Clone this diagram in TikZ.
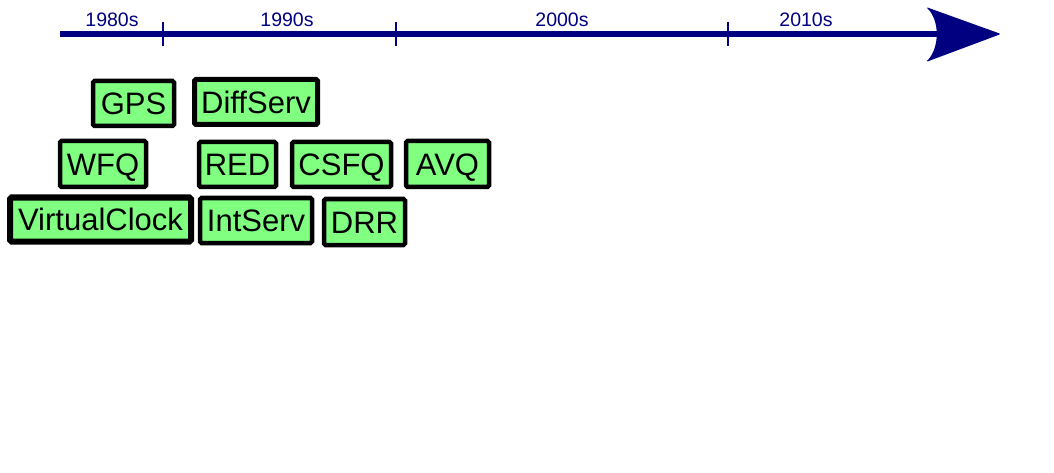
\documentclass[tikz,border=0pt]{standalone}
\usepackage{fontspec}
\setmainfont{Liberation Sans}
\definecolor{axisblue}{RGB}{0,0,128}
\definecolor{boxgreen}{RGB}{128,255,128}
\begin{document}
\begin{tikzpicture}[x=1pt,y=-1pt,
  era/.style={text=axisblue,font=\fontsize{19.5}{22}\selectfont,anchor=base,inner sep=0pt},
  tickmark/.style={draw=axisblue,line width=2pt},
  tech/.style={draw=black,fill=boxgreen,line width=4.5pt,rounded corners=1.5pt,
    font=\fontsize{31}{35}\selectfont,inner sep=0pt,anchor=center,
    text height=22.2pt,text depth=0pt}]
\useasboundingbox (0,0) rectangle (1054,473);
% axis
\coordinate (axstart) at (60,34);
\coordinate (axend) at (940,34);
\coordinate (tip) at (1001,34);
\coordinate (backtop) at (926,7);
\coordinate (backbot) at (926,62);
\draw[axisblue,line width=6pt] (axstart) -- (axend);
\fill[axisblue,rounded corners=1.5pt] (tip) -- (backtop) .. controls (940,20) and (940,48) .. (backbot) -- cycle;
\coordinate (t1a) at (163,22); \coordinate (t1b) at (163,46);
\coordinate (t2a) at (396,22); \coordinate (t2b) at (396,46);
\coordinate (t3a) at (728,22); \coordinate (t3b) at (728,46);
\draw[tickmark] (t1a) -- (t1b);
\draw[tickmark] (t2a) -- (t2b);
\draw[tickmark] (t3a) -- (t3b);
\node[era] (e80) at (112,27) {1980s};
\node[era] (e90) at (287,27) {1990s};
\node[era] (e00) at (562,27) {2000s};
\node[era] (e10) at (806,27) {2010s};
% boxes
\node[tech,minimum width=81pt,minimum height=45pt] (gps) at (133.5,103.5) {GPS};
\node[tech,line width=5pt,minimum width=123pt,minimum height=45pt] (diffserv) at (256,102) {DiffServ};
\node[tech,minimum width=86pt,minimum height=46pt] (wfq) at (103,164) {WFQ};
\node[tech,minimum width=77pt,minimum height=45pt] (red) at (237.5,164.5) {RED};
\node[tech,minimum width=99pt,minimum height=45pt] (csfq) at (341.5,164.5) {CSFQ};
\node[tech,minimum width=83pt,minimum height=46pt] (avq) at (447.5,164) {AVQ};
\node[tech,line width=6pt,minimum width=181pt,minimum height=44pt] (vclock) at (100.5,219.5) {VirtualClock};
\node[tech,minimum width=112pt,minimum height=45pt] (intserv) at (256,220.5) {IntServ};
\node[tech,minimum width=81pt,minimum height=46pt] (drr) at (364.5,222) {DRR};
\end{tikzpicture}
\end{document}
